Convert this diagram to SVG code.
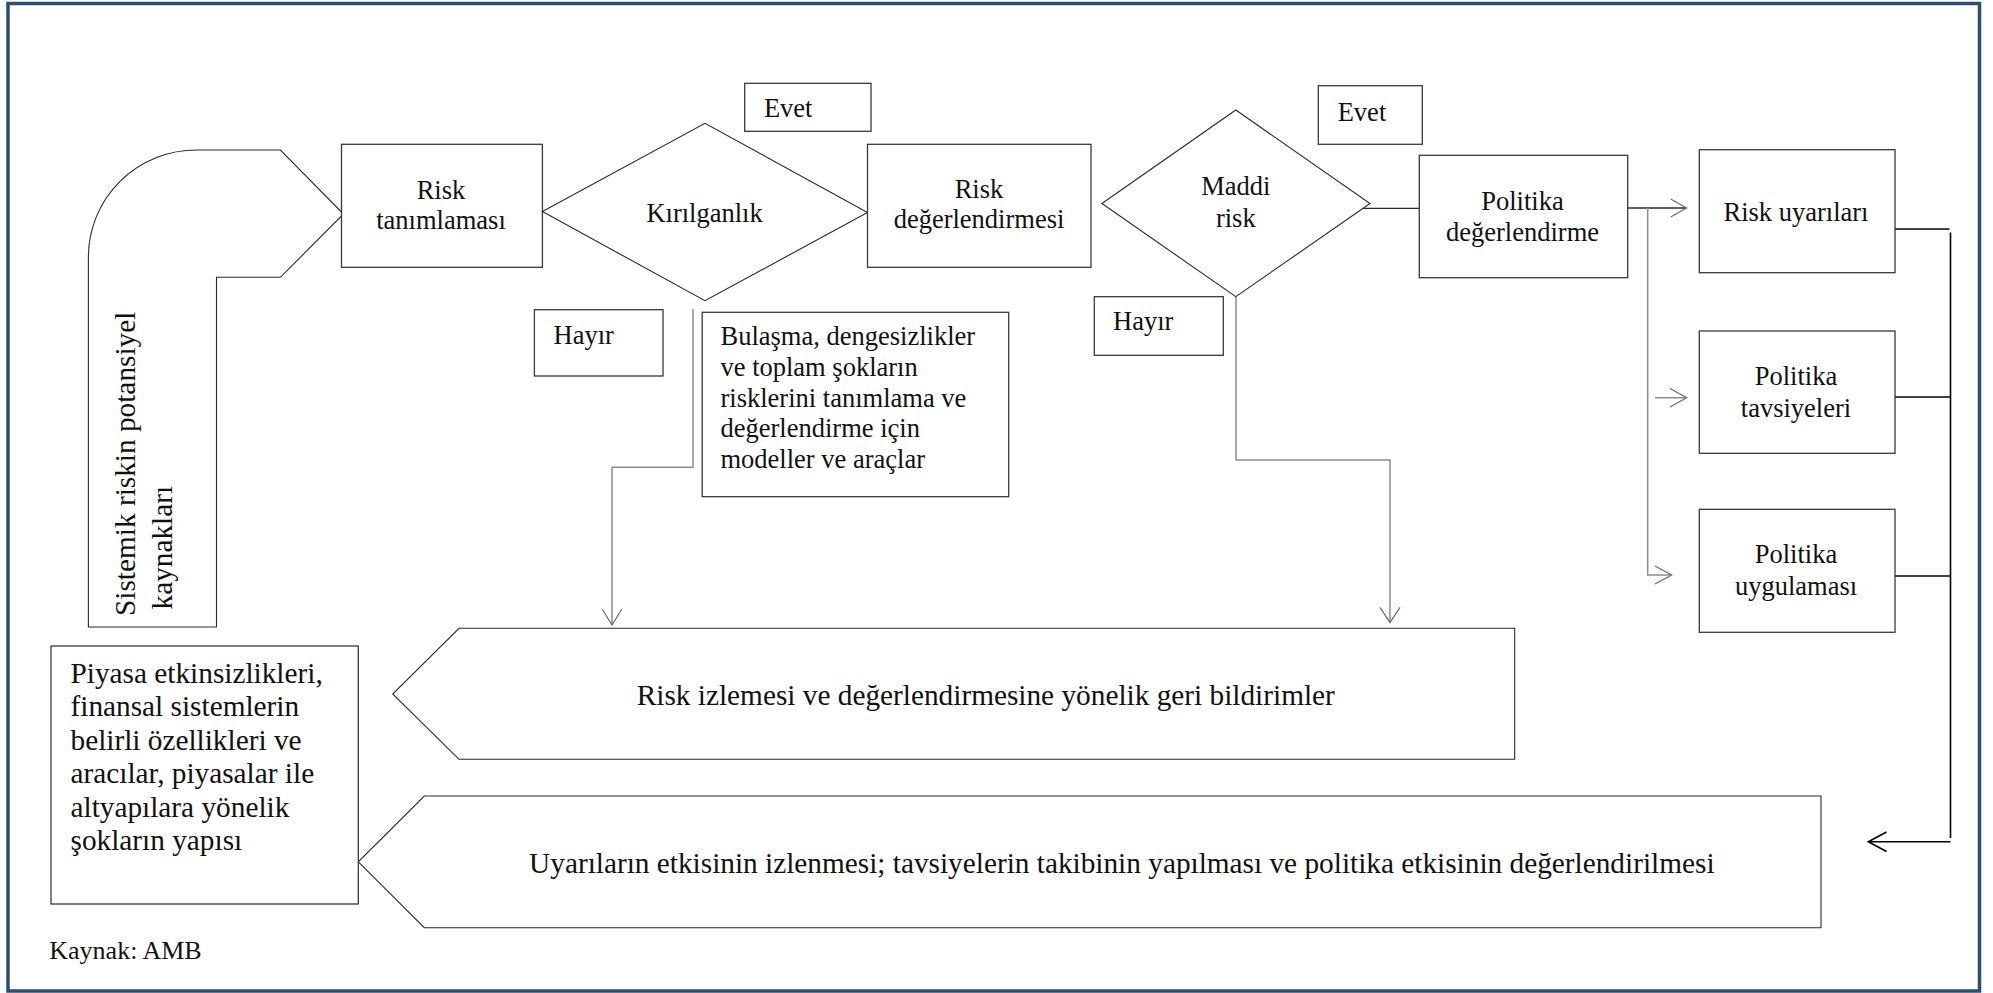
<svg xmlns="http://www.w3.org/2000/svg" width="1993" height="993" viewBox="0 0 1993 993">
  <style>
    .box { fill: #ffffff; stroke: #3a3a3a; stroke-width: 1.3; }
    .shape { fill: #ffffff; stroke: #2a2a2a; stroke-width: 1.1; stroke-linejoin: miter; }
    .t { font-family: "Liberation Serif", "Times New Roman", serif; font-size: 26.5px; fill: #111111; }
    .tc { text-anchor: middle; }
    .big { font-size: 29.3px; }
    .grey { fill: none; stroke: #8c8c8c; stroke-width: 1.5; }
    .dark { fill: none; stroke: #2a2a2a; stroke-width: 1.3; }
    .black { fill: none; stroke: #000000; stroke-width: 1.6; }
    .head { fill: none; stroke: #6a6a6a; stroke-width: 1.2; }
  </style>

  <!-- outer frame -->
  <rect id="frame" x="8" y="3.5" width="1971.5" height="987.5" fill="#ffffff" stroke="#2f4b6e" stroke-width="3.5"/>

  <!-- connectors -->
  <g id="connectors">
    <!-- Kırılganlık: Hayır branch to feedback -->
    <path class="grey" d="M693,309 V467.3 H612 V624"/>
    <path class="head" d="M602.3,609.3 L612,625 L621.7,609.3"/>
    <!-- Maddi risk: Hayır branch to feedback -->
    <path class="grey" d="M1236,297 V460 H1390 V622"/>
    <path class="head" d="M1380,607.4 L1390,622.7 L1400,607.4"/>
    <!-- Maddi risk: Evet to policy assessment -->
    <path class="dark" d="M1363,208.3 H1419.3"/>
    <!-- policy assessment outputs -->
    <path class="dark" d="M1627.7,208 H1686"/>
    <path class="head" d="M1670.7,199 L1686.7,208 L1670.7,217"/>
    <path class="grey" d="M1647.7,208 V575 H1670"/>
    <path class="head" d="M1655,566 L1671.7,575 L1655,584"/>
    <path class="grey" d="M1655,397.7 H1685.5"/>
    <path class="head" d="M1670,388.5 L1686.7,397.7 L1670,407"/>
    <!-- outputs back to monitoring -->
    <path class="black" d="M1895,229 H1949.5"/>
    <path class="black" d="M1895,397 H1950.5"/>
    <path class="black" d="M1895,576 H1950.5"/>
    <path class="black" d="M1950.5,232.5 V838"/>
    <path class="black" d="M1950.5,841.7 H1869.5"/>
    <path class="black" d="M1886.5,832 L1868.3,841.7 L1886.5,851.5"/>
  </g>

  <!-- sources arrow (curved block arrow) -->
  <g id="node-sources">
    <path class="shape" d="M216.5,627 H88.4 V257 A108,107 0 0 1 196.4,150 H280.4 L341.5,212 L341.5,216 L280.4,277.3 H216.5 Z"/>
    <text class="t big" transform="translate(134.8,616) rotate(-90)">Sistemik riskin potansiyel</text>
    <text class="t big" transform="translate(171.9,609.5) rotate(-90)">kaynakları</text>
  </g>

  <g id="node-risk-identification">
    <rect class="box" x="341.5" y="144.3" width="200.9" height="123"/>
    <text class="t tc" x="441" y="199">Risk</text>
    <text class="t tc" x="441" y="229.3">tanımlaması</text>
  </g>

  <g id="node-vulnerability">
    <path class="shape" d="M542.4,211.5 L705,123.3 L867.5,212.5 L705,300.7 Z"/>
    <text class="t tc" x="704.6" y="221.7">Kırılganlık</text>
  </g>

  <g id="label-yes-1">
    <rect class="box" x="744.7" y="83.3" width="126.3" height="48"/>
    <text class="t" x="763.9" y="116.7">Evet</text>
  </g>

  <g id="label-no-1">
    <rect class="box" x="534.4" y="309.7" width="128.6" height="66.3"/>
    <text class="t" x="553.6" y="344.2">Hayır</text>
  </g>

  <g id="node-tools">
    <rect class="box" x="702.2" y="312.3" width="306.5" height="184.4"/>
    <text class="t" x="720.5" y="345">Bulaşma, dengesizlikler</text>
    <text class="t" x="720.5" y="376.4">ve toplam şokların</text>
    <text class="t" x="720.5" y="406.8">risklerini tanımlama ve</text>
    <text class="t" x="720.5" y="437.2">değerlendirme için</text>
    <text class="t" x="720.5" y="468">modeller ve araçlar</text>
  </g>

  <g id="node-risk-assessment">
    <rect class="box" x="867.5" y="144.3" width="223.5" height="123"/>
    <text class="t tc" x="979" y="198.3">Risk</text>
    <text class="t tc" x="979" y="228.3">değerlendirmesi</text>
  </g>

  <g id="node-material-risk">
    <path class="shape" d="M1101.9,203.5 L1235.8,110 L1370,203.5 L1235.8,296.7 Z"/>
    <text class="t tc" x="1235.8" y="195">Maddi</text>
    <text class="t tc" x="1235.8" y="226.7">risk</text>
  </g>

  <g id="label-yes-2">
    <rect class="box" x="1318.3" y="85.7" width="104" height="58.6"/>
    <text class="t" x="1337.7" y="121">Evet</text>
  </g>

  <g id="label-no-2">
    <rect class="box" x="1094.3" y="296.7" width="129" height="58.6"/>
    <text class="t" x="1113" y="330">Hayır</text>
  </g>

  <g id="node-policy-assessment">
    <rect class="box" x="1419.3" y="155.3" width="208.4" height="122.4"/>
    <text class="t tc" x="1522.5" y="210">Politika</text>
    <text class="t tc" x="1522.5" y="240.7">değerlendirme</text>
  </g>

  <g id="node-risk-warnings">
    <rect class="box" x="1699.3" y="149.7" width="195.7" height="123"/>
    <text class="t tc" x="1796" y="220.7">Risk uyarıları</text>
  </g>

  <g id="node-policy-recommendations">
    <rect class="box" x="1699.3" y="331" width="195.7" height="122.3"/>
    <text class="t tc" x="1796" y="385">Politika</text>
    <text class="t tc" x="1796" y="417.3">tavsiyeleri</text>
  </g>

  <g id="node-policy-implementation">
    <rect class="box" x="1699.3" y="509.3" width="195.7" height="123"/>
    <text class="t tc" x="1796" y="563.3">Politika</text>
    <text class="t tc" x="1796" y="595">uygulaması</text>
  </g>

  <g id="node-feedback">
    <path class="shape" d="M459,628.3 H1514.7 V759.3 H459 L392.7,694 Z"/>
    <text class="t big tc" x="985.8" y="704.6">Risk izlemesi ve değerlendirmesine yönelik geri bildirimler</text>
  </g>

  <g id="node-monitoring">
    <path class="shape" d="M424.3,796 H1821 V927.7 H424.3 L358.3,861.8 Z"/>
    <text class="t big tc" x="1121.8" y="872.7">Uyarıların etkisinin izlenmesi; tavsiyelerin takibinin yapılması ve politika etkisinin değerlendirilmesi</text>
  </g>

  <g id="node-shock-structure">
    <rect class="box" x="51" y="646" width="307.3" height="258"/>
    <text class="t big" x="70.5" y="682.7">Piyasa etkinsizlikleri,</text>
    <text class="t big" x="70.5" y="716.2">finansal sistemlerin</text>
    <text class="t big" x="70.5" y="749.7">belirli özellikleri ve</text>
    <text class="t big" x="70.5" y="783.1">aracılar, piyasalar ile</text>
    <text class="t big" x="70.5" y="816.5">altyapılara yönelik</text>
    <text class="t big" x="70.5" y="850">şokların yapısı</text>
  </g>

  <text id="source" class="t" x="49.3" y="959" style="font-size:26px">Kaynak: AMB</text>
</svg>
